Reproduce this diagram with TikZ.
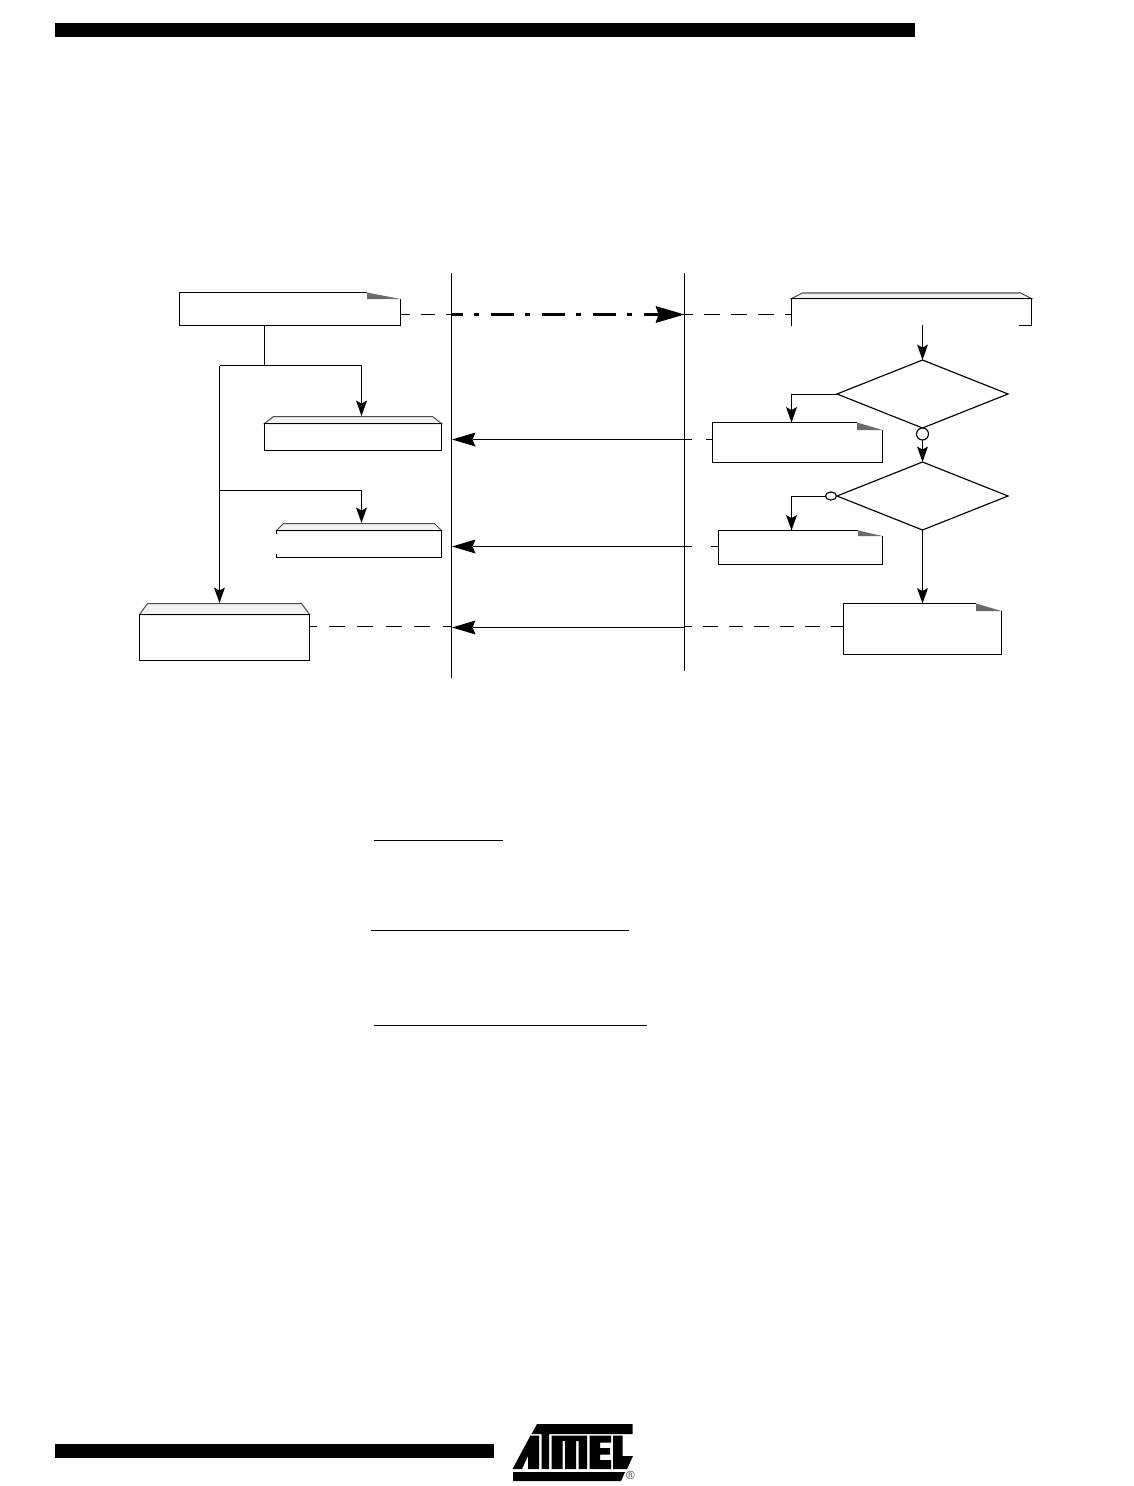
\documentclass[tikz,border=0pt]{standalone}
\usetikzlibrary{arrows.meta,fit,shapes.geometric,calc}
\tikzset{
  ln/.style={line width=1.15pt,black,line cap=butt,line join=miter},
  holder/.style={inner sep=0pt,outer sep=0pt,draw=none,rectangle},
  dnarrow/.style={ln,-{Stealth[length=15.5pt,width=11pt,inset=3pt,line width=0pt]}},
  lfarrow/.style={ln,-{Stealth[length=23.5pt,width=14pt,inset=3pt,line width=0pt]}},
  bigarrow/.style={line width=2.6pt,black,dash pattern=on 23pt off 11.5pt on 5pt off 11.5pt,dash phase=12pt,-{Stealth[length=29pt,width=17pt,inset=3pt,line width=0pt]}},
  dashA/.style={ln,dash pattern=on 14pt off 11pt},
  dashB/.style={ln,dash pattern=on 16pt off 11pt},
  dashC/.style={ln,dash pattern=on 16pt off 12.4pt},
  dashD/.style={ln,dash pattern=on 14.5pt off 11pt},
  foldfill/.style={fill=black!58,draw=none},
  tabfill/.style={fill=black!5,draw=black!70,line width=1pt},
  dec/.style={ln,draw,fill=white,inner sep=0pt,outer sep=0pt},
  barfill/.style={fill=black,draw=none},
}
% name, x1, y1, x2, y2, fold x, fold y
\newcommand{\notebox}[7]{%
  \coordinate (#1-a) at (#2,#3); \coordinate (#1-b) at (#4,#5);
  \node[holder,fit=(#1-a)(#1-b)] (#1) {};
  \fill[foldfill] (#6,#3) -- (#4,#7) -- (#6,#7) -- cycle;
  \draw[ln] (#4,#7) -- (#4,#5) -- (#2,#5) -- (#2,#3) -- (#6,#3);
}
% name, x1, tab top, body top, x2, y2, inset
\newcommand{\tabbox}[7]{%
  \coordinate (#1-a) at (#2,#4); \coordinate (#1-b) at (#5,#6);
  \node[holder,fit=(#1-a)(#1-b)] (#1) {};
  \draw[tabfill] (#2,#4) -- ($(#2,#3)+(#7,0)$) -- ($(#5,#3)-(#7,0)$) -- (#5,#4) -- cycle;
}
\begin{document}
\begin{tikzpicture}[x=1pt,y=-1pt]
\useasboundingbox (0,0) rectangle (1134,1486);
% page bars
\fill[barfill] (55,23) rectangle (915,37);
\fill[barfill] (55,1444) rectangle (494,1458);
% lifelines
\coordinate (LAtop) at (451.5,273); \coordinate (LAbot) at (451.5,678);
\coordinate (LBtop) at (684.5,273); \coordinate (LBbot) at (684.5,671);
% left column
\notebox{req}{179.5}{292.5}{400.5}{325.5}{367}{299}
\tabbox{ind1}{264.5}{416.5}{423.5}{441.5}{450.5}{9}
\draw[ln] (ind1.north west) rectangle (ind1.south east);
\tabbox{ind2}{276.5}{523.5}{530.5}{441.5}{557.5}{7}
\draw[ln] (276.5,534) -- (276.5,530.5) -- (441.5,530.5) -- (441.5,557.5) -- (276.5,557.5) -- (276.5,554);
\tabbox{conf}{139.5}{603.5}{614.5}{309.5}{660.5}{8}
\draw[ln] (conf.north west) rectangle (conf.south east);
% right column
\tabbox{start}{791.5}{292.5}{298.5}{1031.5}{325.5}{12}
\draw[black!45,line width=2pt] (803,292.5) -- (1019,292.5);
\draw[ln] (791.5,325.5) -- (791.5,298.5) -- (1031.5,298.5) -- (1031.5,325.5) -- (1019,325.5);
\node[dec,diamond,aspect=2.515,minimum width=171pt,minimum height=68pt] (d1) at (922.5,394) {};
\node[dec,diamond,aspect=2.515,minimum width=171pt,minimum height=68pt] (d2) at (922.5,496) {};
\node[dec,circle,minimum size=12pt] (c1) at (922.5,434) {};
\node[dec,ellipse,minimum width=11pt,minimum height=8pt] (c2) at (831,496) {};
\notebox{r1}{712.5}{422.5}{882.5}{462.5}{857}{430}
\notebox{r2}{718.5}{530.5}{882.5}{564.5}{858}{536}
\notebox{r3}{843.5}{603.5}{1001.5}{654.5}{976}{611}
% junction points
\coordinate (j0) at (264.5,325);
\coordinate (j1) at (264.5,365.5);
\coordinate (j2) at (219.5,365.5);
\coordinate (j3) at (361.5,365.5);
\coordinate (j4) at (219.5,490.5);
\coordinate (j5) at (361.5,490.5);
\coordinate (t1) at (361.5,416);
\coordinate (t2) at (361.5,523);
\coordinate (t3) at (219.5,603);
\coordinate (s0) at (922.5,325);
\coordinate (k1) at (791.5,394.5);
\coordinate (k2) at (791.5,496.5);
% connectors, left
\draw[ln] (j0) -- (j1);
\draw[dnarrow] (j2) -- (t3);
\draw[dnarrow] (j2) -- (j3) -- (t1);
\draw[dnarrow] (j4) -- (j5) -- (t2);
% connectors, right
\draw[dnarrow] (s0) -- (d1.north);
\draw[ln] (d1.south) -- (c1.north);
\draw[dnarrow] (c1.south) -- (d2.north);
\draw[dnarrow] (d1.west |- k1) -- (k1) -- (r1.north -| k1);
\draw[dnarrow] (c2.west |- k2) -- (k2) -- (r2.north -| k2);
\draw[dnarrow] (d2.south) -- (r3.north -| d2.south);
% messages
\coordinate (m1a) at (451.5,314.5); \coordinate (m1b) at (684.5,314.5);
\coordinate (m2a) at (452,439.5);   \coordinate (m2b) at (684.5,439.5);
\coordinate (m3a) at (452,546.5);   \coordinate (m3b) at (684.5,546.5);
\coordinate (m4a) at (452,627.5);   \coordinate (m4b) at (684.5,627.5);
\coordinate (m5a) at (451.5,626.5); \coordinate (m5b) at (684.5,626.5);
\draw[dashA,dash phase=5pt] (req.east |- m1a) -- (m1a);
\draw[bigarrow] (m1a) -- (m1b);
\draw[dashB,dash phase=8pt] (m1b) -- (start.west |- m1b);
\draw[lfarrow] (m2b) -- (m2a);
\draw[ln] (m2b) -- +(7.5,0);
\draw[ln] (r1.west |- m2b) -- +(-7,0);
\draw[lfarrow] (m3b) -- (m3a);
\draw[ln] (m3b) -- +(7.5,0);
\draw[ln] (r2.west |- m3b) -- +(-8,0);
\draw[lfarrow] (m4b) -- (m4a);
\draw[dashC,dash phase=9pt] (conf.east |- m5a) -- (m5a);
\draw[dashD,dash phase=7pt] (m5b) -- (r3.west |- m5b);
% lifelines
\draw[ln] (LAtop) -- (LAbot);
\draw[ln] (LBtop) -- (LBbot);
% underlines
\draw[ln] (374,840.5) -- (503,840.5);
\draw[ln] (371,930.5) -- (629,930.5);
\draw[ln] (374,1025.5) -- (647,1025.5);
% logo
\fill[black] (537,1424) -- (632.5,1424) -- (632.5,1434) -- (549,1434) -- (549,1469) -- (541.5,1469) -- (541.5,1434) -- (531.5,1434) -- cycle;
\fill[black] (530.5,1435.5) -- (539,1435.5) -- (539,1469) -- (528,1469) -- (528,1456) -- (522,1469) -- (512.5,1469) -- cycle;
\fill[black] (551.5,1435.5) -- (587,1435.5) -- (587,1469) -- (578.5,1469) -- (578.5,1441) -- (576,1441) -- (576,1469) -- (565,1469) -- (565,1441) -- (562.5,1441) -- (562.5,1469) -- (551.5,1469) -- cycle;
\fill[black] (589.5,1435.5) -- (611,1435.5) -- (611,1442.5) -- (600,1442.5) -- (600,1448) -- (610,1448) -- (610,1454.5) -- (600,1454.5) -- (600,1460) -- (611,1460) -- (611,1469) -- (589.5,1469) -- cycle;
\fill[black] (613,1435.5) -- (622.5,1435.5) -- (622.5,1456) -- (633,1456) -- (627,1469) -- (613,1469) -- cycle;
\fill[black] (513,1472) -- (625,1472) -- (621,1481) -- (513,1481) -- cycle;
\node[inner sep=0pt,font=\fontsize{12}{12}\selectfont] (reg) at (630.5,1475.5) {\textregistered};
\end{tikzpicture}
\end{document}
